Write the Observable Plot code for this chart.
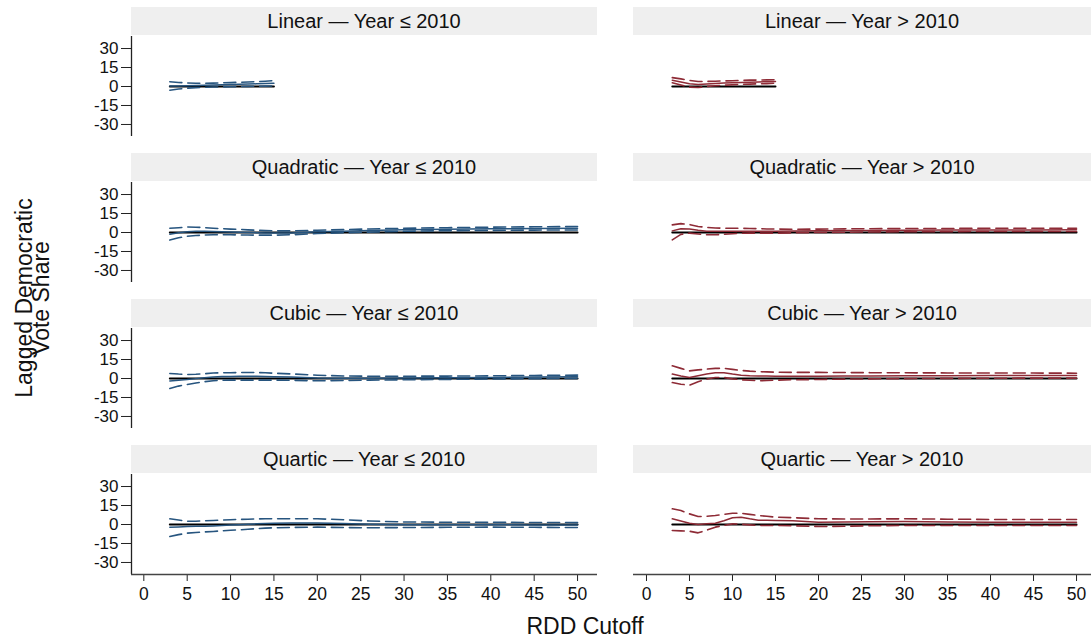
<!DOCTYPE html>
<html><head><meta charset="utf-8">
<script src="https://cdn.jsdelivr.net/npm/d3@7"></script>
<script src="https://cdn.jsdelivr.net/npm/@observablehq/plot@0.6"></script>
<style>
body{margin:0;background:#fff;}
#fig{position:relative;width:1091px;height:644px;overflow:hidden;font-family:"Liberation Sans",Arial,Helvetica,sans-serif;color:#111;background:#fff;}
.hdr{position:absolute;height:28px;background:#efefef;text-align:center;font-size:20px;line-height:29px;color:#111;white-space:nowrap;}
.pnl{position:absolute;}
.pnl svg{overflow:visible;}
#ytitle{position:absolute;left:33px;top:298px;transform:translate(-50%,-50%) rotate(-90deg);font-size:23px;line-height:17px;text-align:center;white-space:nowrap;}
#xtitle{position:absolute;left:585px;top:613px;transform:translateX(-50%);font-size:23px;white-space:nowrap;}
</style></head><body><div id="fig"></div><script>
// ---- data ----
const models = ["Linear", "Quadratic", "Cubic", "Quartic"];
const periods = ["Year ≤ 2010", "Year > 2010"];
const periodColors = ["#27557f", "#8e2b36"];
const xTicks = [0, 5, 10, 15, 20, 25, 30, 35, 40, 45, 50];
const yTicks = [-30, -15, 0, 15, 30];

const cutoffsLinear = [3, 4, 5, 6, 7, 8, 9, 10, 11, 12, 13, 14, 15];
const cutoffs = [3, 4, 5, 6, 7, 8, 9, 10, 11, 12, 13, 14, 15, 17, 20, 23, 26, 30, 35, 40, 45, 50];

const linearEarlyEst = [0.3, 0.4, 0.6, 0.8, 1.0, 1.1, 1.3, 1.5, 1.7, 1.9, 2.1, 2.3, 2.6];
const linearEarlyLo  = [-2.9, -2.0, -1.3, -0.9, -0.6, -0.4, -0.3, -0.2, 0.0, 0.1, 0.2, 0.3, 0.5];
const linearEarlyHi  = [3.8, 3.2, 2.8, 2.6, 2.6, 2.7, 2.9, 3.1, 3.3, 3.6, 3.9, 4.2, 4.6];

const linearLateEst = [5.0, 3.6, 2.2, 1.6, 2.0, 2.4, 2.7, 3.0, 3.2, 3.4, 3.6, 3.8, 4.0];
const linearLateLo  = [3.0, 1.2, -0.5, -0.8, 0.0, 0.6, 1.0, 1.4, 1.7, 1.9, 2.1, 2.3, 2.6];
const linearLateHi  = [7.0, 6.0, 4.8, 4.0, 4.0, 4.2, 4.4, 4.6, 4.8, 5.0, 5.1, 5.2, 5.3];

const quadEarlyEst = [-1.3, -0.2, 0.6, 0.9, 0.9, 0.8, 0.6, 0.4, 0.2, 0.0, -0.1, -0.3, -0.4, -0.3, 0.5, 1.0, 1.5, 2.1, 2.6, 2.9, 3.2, 3.3];
const quadEarlyLo  = [-6.0, -4.2, -3.0, -2.4, -2.0, -1.8, -1.8, -1.8, -1.9, -2.0, -2.1, -2.1, -2.1, -1.8, -0.8, -0.2, 0.3, 1.0, 1.4, 1.7, 1.9, 2.0];
const quadEarlyHi  = [3.4, 3.8, 4.3, 4.2, 3.8, 3.4, 3.0, 2.7, 2.4, 2.1, 1.8, 1.5, 1.3, 1.3, 1.8, 2.3, 2.8, 3.3, 3.8, 4.2, 4.5, 4.7];

const quadLateEst = [1.3, 3.0, 2.8, 1.8, 1.0, 0.9, 1.0, 1.0, 1.0, 1.0, 1.0, 1.0, 1.0, 1.1, 1.3, 1.5, 1.6, 1.8, 1.9, 2.0, 2.0, 2.1];
const quadLateLo  = [-5.8, -1.5, -0.5, -1.2, -1.8, -1.8, -1.4, -1.0, -0.6, -0.5, -0.5, -0.5, -0.5, -0.3, 0.0, 0.2, 0.4, 0.6, 0.7, 0.8, 0.8, 0.8];
const quadLateHi  = [6.0, 7.0, 6.3, 4.8, 4.0, 3.6, 3.4, 3.4, 3.3, 3.2, 3.0, 2.8, 2.7, 2.6, 2.7, 2.9, 3.0, 3.1, 3.2, 3.3, 3.4, 3.4];

const cubicEarlyEst = [-1.9, -1.3, -0.8, -0.1, 0.6, 1.2, 1.5, 1.6, 1.7, 1.7, 1.7, 1.6, 1.4, 1.1, 0.4, 0.2, 0.2, 0.4, 0.6, 0.8, 1.1, 1.4];
const cubicEarlyLo  = [-7.9, -6.0, -4.7, -3.5, -2.5, -1.8, -1.4, -1.3, -1.3, -1.3, -1.3, -1.3, -1.3, -1.4, -1.8, -1.6, -1.3, -1.0, -0.7, -0.4, -0.1, 0.1];
const cubicEarlyHi  = [4.0, 3.5, 3.2, 3.3, 3.8, 4.3, 4.5, 4.6, 4.7, 4.7, 4.7, 4.5, 4.2, 3.6, 2.6, 2.0, 1.8, 1.8, 1.9, 2.1, 2.4, 2.7];

const cubicLateEst = [3.5, 2.0, 0.8, 2.2, 3.5, 4.5, 4.6, 3.5, 2.6, 2.2, 2.0, 1.9, 1.8, 1.7, 1.8, 1.9, 2.0, 2.1, 2.2, 2.3, 2.4, 2.4];
const cubicLateLo  = [-3.2, -4.5, -5.3, -2.5, -0.5, 0.8, 0.8, -0.3, -1.0, -1.4, -1.8, -1.6, -1.3, -1.0, -0.8, -0.5, -0.3, -0.1, 0.1, 0.2, 0.3, 0.3];
const cubicLateHi  = [10.0, 8.0, 6.0, 6.8, 7.4, 8.0, 8.0, 7.2, 6.4, 5.8, 5.4, 5.2, 5.0, 4.8, 4.8, 4.7, 4.6, 4.5, 4.4, 4.3, 4.3, 4.2];

const quarticEarlyEst = [-2.1, -1.9, -1.6, -1.4, -1.3, -1.1, -0.8, -0.4, -0.1, 0.2, 0.5, 0.8, 1.0, 1.1, 1.2, 0.7, 0.1, -0.2, -0.2, -0.2, -0.3, -0.4];
const quarticEarlyLo  = [-9.5, -8.0, -6.8, -6.3, -5.9, -5.5, -5.0, -4.6, -4.2, -3.8, -3.3, -2.9, -2.6, -2.3, -2.1, -2.4, -2.6, -2.4, -2.2, -2.1, -2.2, -2.4];
const quarticEarlyHi  = [4.5, 3.5, 2.6, 2.6, 2.9, 3.2, 3.5, 3.8, 4.0, 4.2, 4.4, 4.5, 4.5, 4.5, 4.5, 3.8, 2.8, 2.0, 1.8, 1.7, 1.6, 1.5];

const quarticLateEst = [4.5, 2.8, 1.0, 0.0, 0.5, 1.0, 3.0, 5.3, 5.8, 4.5, 3.4, 3.3, 3.2, 3.0, 1.8, 1.9, 2.1, 2.3, 2.0, 1.8, 1.8, 1.8];
const quarticLateLo  = [-4.7, -5.0, -5.3, -6.6, -4.5, -2.1, -0.7, 0.5, 0.2, -0.3, -0.8, -0.8, -0.8, -1.0, -1.6, -1.4, -1.0, -0.8, -0.8, -0.8, -0.8, -0.8];
const quarticLateHi  = [12.4, 11.0, 8.4, 6.3, 6.5, 7.1, 8.0, 8.9, 8.9, 8.0, 7.1, 6.5, 5.8, 5.4, 4.5, 4.4, 4.4, 4.5, 4.2, 4.0, 4.0, 4.0];

// ---- assemble panels ----
const panelSeries = [
  [[cutoffsLinear, linearEarlyEst, linearEarlyLo, linearEarlyHi], [cutoffsLinear, linearLateEst, linearLateLo, linearLateHi]],
  [[cutoffs, quadEarlyEst, quadEarlyLo, quadEarlyHi], [cutoffs, quadLateEst, quadLateLo, quadLateHi]],
  [[cutoffs, cubicEarlyEst, cubicEarlyLo, cubicEarlyHi], [cutoffs, cubicLateEst, cubicLateLo, cubicLateHi]],
  [[cutoffs, quarticEarlyEst, quarticEarlyLo, quarticEarlyHi], [cutoffs, quarticLateEst, quarticLateLo, quarticLateHi]]
];

// layout (pixels)
const fig = document.getElementById("fig");
const colLeft = [131, 633];
const colWidth = [466, 458];
const colXDomain = [[-1.42, 52.3], [-1.51, 51.74]];
const rowStep = 146, headerTop = 7, plotTop = 36, plotH = 100;
const yDomain = [-39.5, 39.5];
const mL = 50;

models.forEach((model, r) => {
  periods.forEach((period, c) => {
    const hdr = document.createElement("div");
    hdr.className = "hdr";
    hdr.style.left = colLeft[c] + "px";
    hdr.style.width = colWidth[c] + "px";
    hdr.style.top = (headerTop + rowStep * r) + "px";
    hdr.textContent = model + " \u2014 " + period;
    fig.appendChild(hdr);

    const [xs, est, lo, hi] = panelSeries[r][c];
    const rows = xs.map((x, i) => ({cutoff: x, est: est[i], lo: lo[i], hi: hi[i], zero: 0}));
    const color = periodColors[c];
    const bottom = r === models.length - 1;
    const mB = bottom ? 40 : 0;

    const marks = [];
    if (c === 0) {
      marks.push(Plot.axisY(yTicks, {tickSize: 10, tickPadding: 3, fontSize: 17, tickFormat: d => String(d), label: null, stroke: "#222", strokeWidth: 1, color: "#111"}));
      marks.push(Plot.ruleX([colXDomain[c][0]], {stroke: "#222", strokeWidth: 1.3}));
    } else {
      marks.push(Plot.axisY({ticks: [], label: null}));
    }
    if (bottom) {
      marks.push(Plot.axisX(xTicks, {tickSize: 7, tickPadding: 6, fontSize: 17.5, tickFormat: d => String(d), label: null, stroke: "#222", color: "#111"}));
      marks.push(Plot.ruleY([yDomain[0]], {stroke: "#444", strokeWidth: 1.3}));
    } else {
      marks.push(Plot.axisX({ticks: [], label: null}));
    }
    marks.push(Plot.line(rows, {x: "cutoff", y: "zero", stroke: "#000", strokeWidth: 2}));
    marks.push(Plot.line(rows, {x: "cutoff", y: "hi", stroke: color, strokeWidth: 1.6, strokeDasharray: "12,6"}));
    marks.push(Plot.line(rows, {x: "cutoff", y: "lo", stroke: color, strokeWidth: 1.6, strokeDasharray: "12,6"}));
    marks.push(Plot.line(rows, {x: "cutoff", y: "est", stroke: color, strokeWidth: 1.5}));

    const chart = Plot.plot({
      width: mL + colWidth[c],
      height: plotH + mB,
      marginLeft: mL, marginRight: 0, marginTop: 0, marginBottom: mB,
      x: {domain: colXDomain[c]},
      y: {domain: yDomain},
      style: {fontFamily: '"Liberation Sans", Arial, Helvetica, sans-serif', background: "transparent", overflow: "visible"},
      marks
    });
    const wrap = document.createElement("div");
    wrap.className = "pnl";
    wrap.style.left = (colLeft[c] - mL) + "px";
    wrap.style.top = (plotTop + rowStep * r) + "px";
    wrap.appendChild(chart);
    fig.appendChild(wrap);
  });
});

const yt = document.createElement("div");
yt.id = "ytitle";
yt.innerHTML = "Lagged Democratic<br>Vote Share";
fig.appendChild(yt);
const xt = document.createElement("div");
xt.id = "xtitle";
xt.textContent = "RDD Cutoff";
fig.appendChild(xt);
</script></body></html>
